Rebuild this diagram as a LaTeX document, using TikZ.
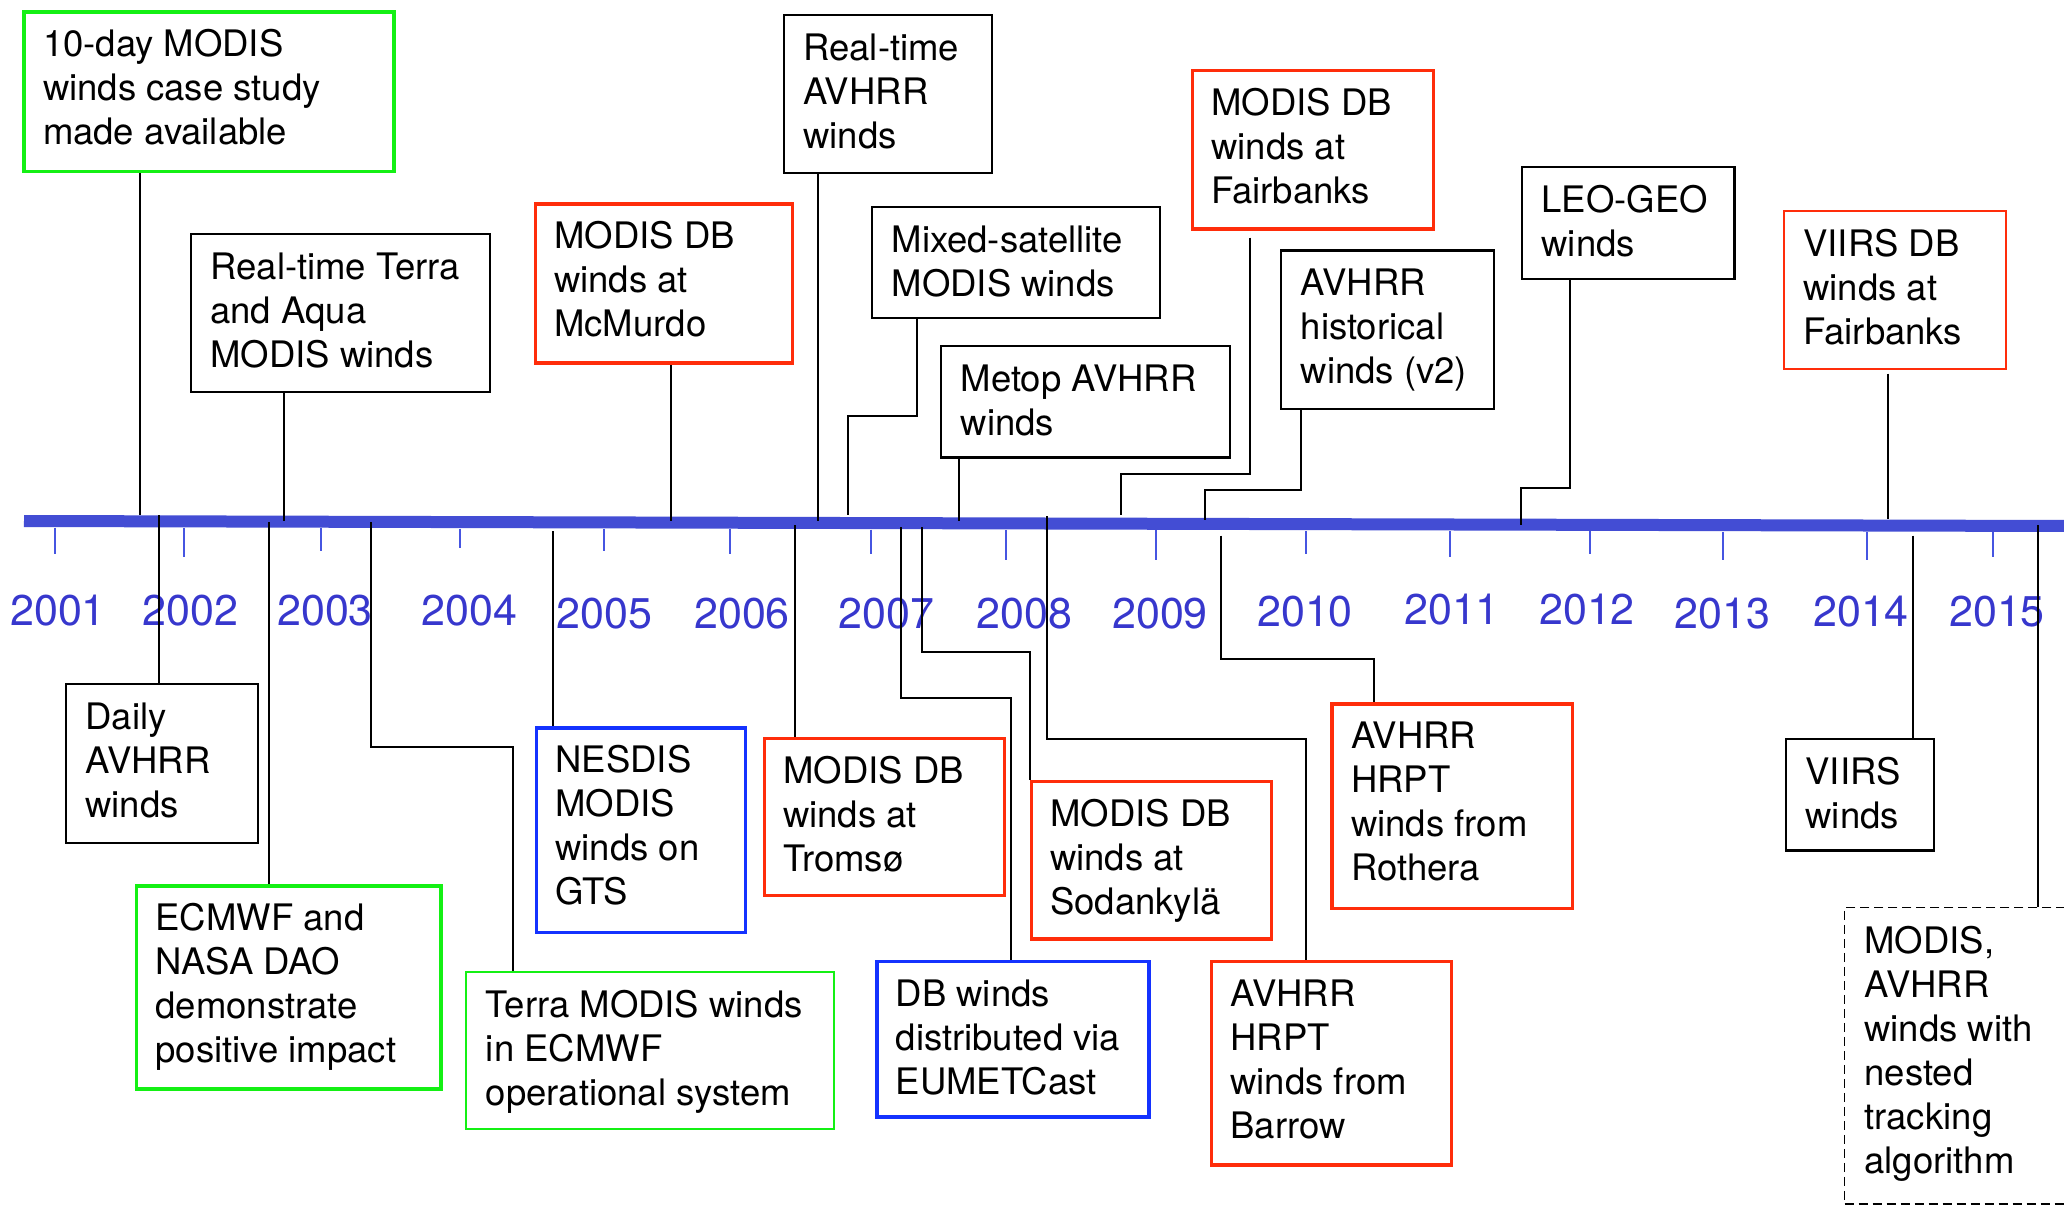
\documentclass[tikz,border=0pt]{standalone}
\usepackage{fontspec}
\setmainfont{TeX Gyre Heros}
\usetikzlibrary{calc}
\definecolor{tlblue}{RGB}{67,77,212}
\definecolor{yrblue}{RGB}{55,55,205}
\definecolor{tkblue}{RGB}{70,85,225}
\definecolor{bgreen}{RGB}{20,240,20}
\definecolor{bred}{RGB}{255,45,10}
\definecolor{bblue}{RGB}{20,50,255}
\newcommand\evfont{\fontsize{36.5}{44}\selectfont}
\newcommand\yrfont{\fontsize{43}{50}\selectfont}
\newcommand\mkbox[7]{%
  \node[evbox,#6,minimum width={#4-#2},minimum height={#5-#3}] (#1) at (#2,#3) {};
  \node[evtext] (#1-t) at ($(#1.north west)+(20.5,46.5)$) {\parbox[t]{400pt}{#7}};
}
\begin{document}
\begin{tikzpicture}[x=1pt,y=-1pt,
  evbox/.style={draw,line width=2.2,inner sep=0,anchor=north west},
  grn/.style={draw=bgreen,line width=3.6},
  grnthin/.style={draw=bgreen,line width=2.2},
  rd/.style={draw=bred,line width=3.6},
  rdthin/.style={draw=bred,line width=2.2},
  bl/.style={draw=bblue,line width=3.6},
  dsh/.style={draw=black,line width=1.6,dash pattern=on 9pt off 5pt},
  evtext/.style={anchor=base west,inner sep=0,font=\evfont},
  yr/.style={anchor=base,inner sep=0,font=\yrfont,text=yrblue},
  conn/.style={draw=black,line width=2},
  tick/.style={draw=tkblue,line width=2},
  tline/.style={draw=tlblue,line width=12}]
\useasboundingbox[fill=white] (0,0) rectangle (2064,1207);

% timeline
\coordinate (tlL) at (24,521);
\coordinate (tlR) at (2070,526);
\draw[tline] (tlL) -- (tlR);
\foreach \x/\e in {54.5/554,183.5/557,321/551,460/548,603.6/551,729.5/554,870.5/554,1005.8/560,1156/560,1305.8/554,1449.8/557,1590/553.6,1723/560,1866.5/560,1993.4/557}
  \draw[tick] (\x,{527.5+\x*0.0025}) -- (\x,\e);

% year labels
\foreach \x/\y/\t in {58/625/2001,190.6/625/2002,325/625/2003,469.6/625/2004,604.5/628/2005,742/628/2006,886.6/628/2007,1024.7/628/2008,1160/628/2009,1305/626/2010,1452/624/2011,1587/624/2012,1722.7/628/2013,1861/626/2014,1997/626/2015}
  \node[yr] (y\t) at (\x,\y) {\t};

% boxes above the timeline
\mkbox{A}{22.3}{10}{392}{169.6}{grn}{10-day MODIS\\winds case study\\made available}
\mkbox{B}{189.7}{232.5}{488.8}{391}{}{Real-time Terra\\and Aqua\\MODIS winds}
\mkbox{C}{533.5}{202}{790.6}{361.4}{rd}{MODIS DB\\winds at\\McMurdo}
\mkbox{D}{782.6}{13.6}{991}{171.8}{}{Real-time\\AVHRR\\winds}
\mkbox{E}{871}{205.7}{1158.9}{317}{}{Mixed-satellite\\MODIS winds}
\mkbox{F}{940}{344.6}{1228.6}{456.4}{}{Metop AVHRR\\winds}
\mkbox{G}{1190.6}{68.6}{1431.5}{227}{rd}{MODIS DB\\winds at\\Fairbanks}
\mkbox{H}{1280}{249.3}{1492.6}{407.5}{}{AVHRR\\historical\\winds (v2)}
\mkbox{I}{1520.9}{166}{1733.4}{277.9}{}{LEO-GEO\\winds}
\mkbox{J}{1782.7}{210}{2004.8}{367.9}{rdthin}{VIIRS DB\\winds at\\Fairbanks}

% boxes below the timeline
\mkbox{K}{64.7}{683}{256.7}{842}{}{Daily\\AVHRR\\winds}
\mkbox{L}{134.8}{884}{439.3}{1087.4}{grn}{ECMWF and\\NASA DAO\\demonstrate\\positive impact}
\mkbox{M}{465.2}{970.6}{832.6}{1127.5}{grnthin}{Terra MODIS winds\\in ECMWF\\operational system}
\mkbox{N}{534.8}{726}{743.8}{930.6}{bl}{NESDIS\\MODIS\\winds on\\GTS}
\mkbox{O}{762.5}{736.6}{1002.7}{893.5}{rd}{MODIS DB\\winds at\\Troms\o}
\mkbox{P}{875}{959.5}{1147.3}{1115}{bl}{DB winds\\distributed via\\EUMETCast}
\mkbox{Q}{1029.5}{779.6}{1269.6}{937.2}{rd}{MODIS DB\\winds at\\Sodankyl\"a}
\mkbox{R}{1209.8}{959.5}{1449.8}{1163.4}{rd}{AVHRR\\HRPT\\winds from\\Barrow}
\mkbox{S}{1330.4}{702.4}{1570.7}{906.7}{rd}{AVHRR\\HRPT\\winds from\\Rothera}
\mkbox{T}{1784.9}{737.5}{1933.2}{849.3}{}{VIIRS\\winds}
\mkbox{U}{1843.8}{906.7}{2100}{1203}{dsh}{MODIS,\\AVHRR\\winds with\\nested\\tracking\\algorithm}

% timeline attachment points and elbows
\coordinate (tA) at (140,515);
\coordinate (tB) at (284.4,521);
\coordinate (tC) at (670.5,521);
\coordinate (tD) at (818,521);
\coordinate (tE) at (847.8,515);   \coordinate (kE) at (917.4,416);
\coordinate (tF) at (958.5,521);
\coordinate (tG) at (1120.5,515);  \coordinate (kG) at (1250,474);
\coordinate (tH) at (1204.5,520);  \coordinate (kH) at (1301.3,490);
\coordinate (tI) at (1520.9,525);  \coordinate (kI) at (1569.8,487.5);
\coordinate (tJ) at (1888.3,518.6);
\coordinate (tK) at (159.4,515);
\coordinate (tL) at (269.2,522);
\coordinate (tM) at (371.4,522);   \coordinate (kM) at (512.5,746.5);
\coordinate (tN) at (552.7,531);
\coordinate (tO) at (795,525);
\coordinate (tP) at (901.3,527);   \coordinate (kP) at (1010.7,698.3);
\coordinate (tQ) at (922.3,527);   \coordinate (kQ) at (1030.4,651.6);
\coordinate (tR) at (1047.3,516);  \coordinate (kR) at (1306.3,738.7);
\coordinate (tS) at (1221.4,535.7);\coordinate (kS) at (1374,659);
\coordinate (tT) at (1913.2,535.7);
\coordinate (tU) at (2038,525);

% connectors above
\draw[conn] (A.south -| tA) -- (tA);
\draw[conn] (B.south -| tB) -- (tB);
\draw[conn] (C.south -| tC) -- (tC);
\draw[conn] (D.south -| tD) -- (tD);
\draw[conn] (E.south -| kE) -- (kE) -| (tE);
\draw[conn] (F.south -| tF) -- (tF);
\draw[conn,shorten <=7pt] (G.south -| kG) -- (kG) -| (tG);
\draw[conn] (H.south -| kH) -- (kH) -| (tH);
\draw[conn] (I.south -| kI) -- (kI) -| (tI);
\draw[conn,shorten <=3.5pt] (J.south -| tJ) -- (tJ);

% connectors below
\draw[conn] (tK) -- (K.north -| tK);
\draw[conn] (tL) -- (L.north -| tL);
\draw[conn] (tM) |- (kM) -- (M.north -| kM);
\draw[conn] (tN) -- (N.north -| tN);
\draw[conn] (tO) -- (O.north -| tO);
\draw[conn] (tP) |- (kP) -- (P.north -| kP);
\draw[conn] (tQ) |- (kQ) -- (Q.north -| kQ);
\draw[conn] (tR) |- (kR) -- (R.north -| kR);
\draw[conn] (tS) |- (kS) -- (S.north -| kS);
\draw[conn] (tT) -- (T.north -| tT);
\draw[conn] (tU) -- (U.north -| tU);
\end{tikzpicture}
\end{document}
